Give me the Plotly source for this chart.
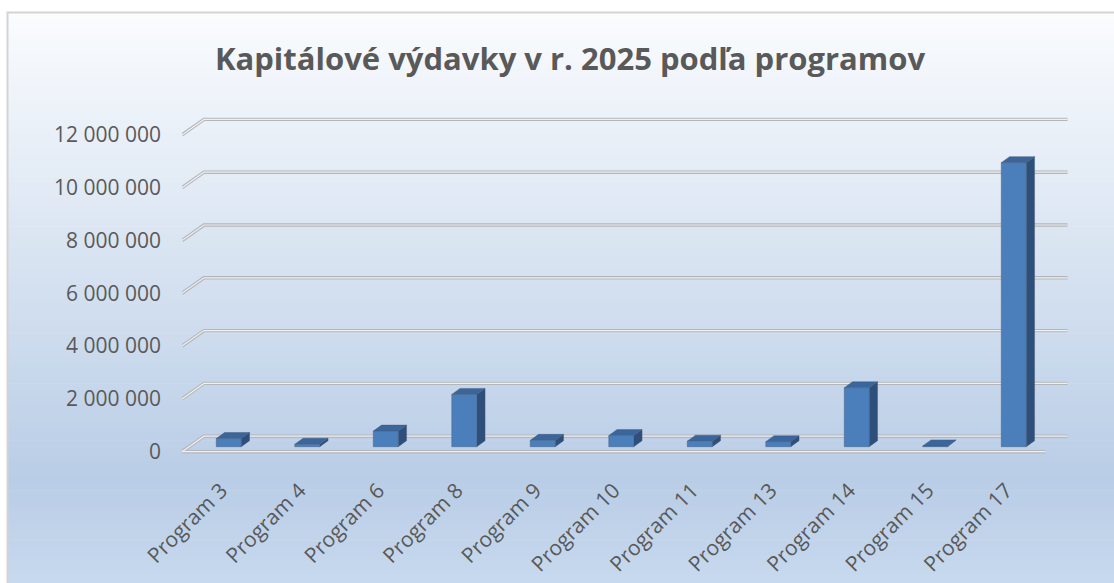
import plotly.graph_objects as go

# ---------------- data ----------------
categories = ["Program 3", "Program 4", "Program 6", "Program 8", "Program 9", "Program 10",
              "Program 11", "Program 13", "Program 14", "Program 15", "Program 17"]
values = [310000, 90000, 590000, 1980000, 240000, 420000,
          210000, 190000, 2230000, 30000, 10760000]
y_tick_vals = [0, 2000000, 4000000, 6000000, 8000000, 10000000, 12000000]
y_tick_text = ["0", "2 000 000", "4 000 000", "6 000 000", "8 000 000", "10 000 000", "12 000 000"]
title_text = "Kapitálové výdavky v r. 2025 podľa programov"

# ---------------- geometry / style ----------------
W, H = 1114, 583
L, R, T, B = 182, 44, 110, 123
PX_PER_CAT = 78.5
PX_PER_VAL = 26.4 / 1e6
plot_w = W - L - R
plot_h = H - T - B
x_range = [-0.5, -0.5 + plot_w / PX_PER_CAT]
y_zero_px = 451.7
y_range = [-(H - B - y_zero_px) / PX_PER_VAL, (y_zero_px - T) / PX_PER_VAL]

def dxu(px):
    return px / PX_PER_CAT

def dyu(px):
    return px / PX_PER_VAL

DEPTH_X, DEPTH_Y = 22, 15.5      # wall depth offset (px)
BAR_OFF_X, BAR_OFF_Y = 7.5, 5    # bar front plane offset (px)
BAR_W = 25
BAR_DX, BAR_DY = 8.3, 6
FRONT_C, SIDE_C, TOP_C = "#4b7fbc", "#2d4f7a", "#3a669c"
TXT_C = "#595959"

fig = go.Figure()

# gridlines (back wall + left wall diagonals)
n = len(categories)
x_left, x_right = -0.5, n - 0.5
gx, gy = [], []
for v in y_tick_vals:
    gx += [x_left, x_left + dxu(DEPTH_X), x_right + dxu(DEPTH_X), None]
    gy += [v, v + dyu(DEPTH_Y), v + dyu(DEPTH_Y), None]
# floor front edge
gx += [x_left, x_right, None]
gy += [0, 0, None]
for col, wdt in (("#b3b6ba", 3.4), ("#eef0f2", 1.2)):
    fig.add_trace(go.Scatter(x=gx, y=gy, mode="lines", line=dict(color=col, width=wdt),
                             hoverinfo="skip", showlegend=False, cliponaxis=False))

# 3D bars
fx, fy, sx, sy, tx, ty = [], [], [], [], [], []
for i, v in enumerate(values):
    xl = i + dxu(BAR_OFF_X - BAR_W / 2)
    xr = i + dxu(BAR_OFF_X + BAR_W / 2)
    yb = dyu(BAR_OFF_Y)
    yt = v + dyu(BAR_OFF_Y)
    ddx, ddy = dxu(BAR_DX), dyu(BAR_DY)
    fx += [xl, xr, xr, xl, xl, None]
    fy += [yb, yb, yt, yt, yb, None]
    sx += [xr, xr + ddx, xr + ddx, xr, xr, None]
    sy += [yb, yb + ddy, yt + ddy, yt, yb, None]
    tx += [xl, xr, xr + ddx, xl + ddx, xl, None]
    ty += [yt, yt, yt + ddy, yt + ddy, yt, None]
for xs, ys, c in ((sx, sy, SIDE_C), (tx, ty, TOP_C), (fx, fy, FRONT_C)):
    fig.add_trace(go.Scatter(x=xs, y=ys, mode="lines", fill="toself", fillcolor=c,
                             line=dict(color="rgba(70,90,120,0.55)", width=0.8),
                             hoverinfo="skip", showlegend=False, cliponaxis=False))

# background gradient (paper coords converted from pixels)
def px_to_paper_x(px):
    return (px - L) / plot_w

def py_to_paper_y(py):
    return (H - B - py) / plot_h

def lerp(c1, c2, t):
    return tuple(round(a + (b - a) * t) for a, b in zip(c1, c2))

top_c = (250, 252, 254)
mid_c = (185, 205, 230)
bot_c = (200, 217, 238)
shapes = []
y0p, y1p = 12, 583
steps = 80
for k in range(steps):
    a = y0p + (y1p - y0p) * k / steps
    b = y0p + (y1p - y0p) * (k + 1) / steps
    m = (a + b) / 2
    if m < 480:
        c = lerp(top_c, mid_c, (m - y0p) / (480 - y0p))
    else:
        c = lerp(mid_c, bot_c, (m - 480) / (y1p - 480))
    shapes.append(dict(type="rect", xref="paper", yref="paper", layer="below",
                       x0=px_to_paper_x(7), x1=px_to_paper_x(W + 2),
                       y0=py_to_paper_y(b + 0.6), y1=py_to_paper_y(a),
                       fillcolor="rgb(%d,%d,%d)" % c, line=dict(width=0)))
# border
shapes.append(dict(type="rect", xref="paper", yref="paper", layer="below",
                   x0=px_to_paper_x(7.5), x1=px_to_paper_x(W + 5),
                   y0=py_to_paper_y(H + 5), y1=py_to_paper_y(12.5),
                   fillcolor="rgba(0,0,0,0)", line=dict(color="#d4d4d4", width=2)))

fig.update_layout(
    width=W, height=H,
    margin=dict(l=L, r=R, t=T, b=B, pad=0, autoexpand=False),
    paper_bgcolor="white", plot_bgcolor="rgba(0,0,0,0)",
    shapes=shapes,
    title=dict(text="<b>" + title_text + "</b>", x=570 / W, xanchor="center",
               y=1 - 59 / H, yanchor="middle",
               font=dict(family="Open Sans", size=31, color=TXT_C)),
    xaxis=dict(range=x_range, showgrid=False, zeroline=False, showline=False,
               automargin=False,
               tickmode="array", tickvals=list(range(n)), ticktext=categories,
               tickangle=-45, ticks="outside", ticklen=9, tickcolor="rgba(0,0,0,0)",
               tickfont=dict(family="Open Sans", size=21, color=TXT_C)),
    yaxis=dict(range=y_range, showgrid=False, zeroline=False, showline=False,
               automargin=False,
               tickmode="array", tickvals=y_tick_vals, ticktext=y_tick_text,
               ticks="", ticklabelstandoff=20,
               tickfont=dict(family="Open Sans", size=21, color=TXT_C)),
    showlegend=False,
)

fig.write_html("out.html", config={"displayModeBar": False},
               post_script="document.body.style.margin='0px';document.body.style.overflow='hidden';")
